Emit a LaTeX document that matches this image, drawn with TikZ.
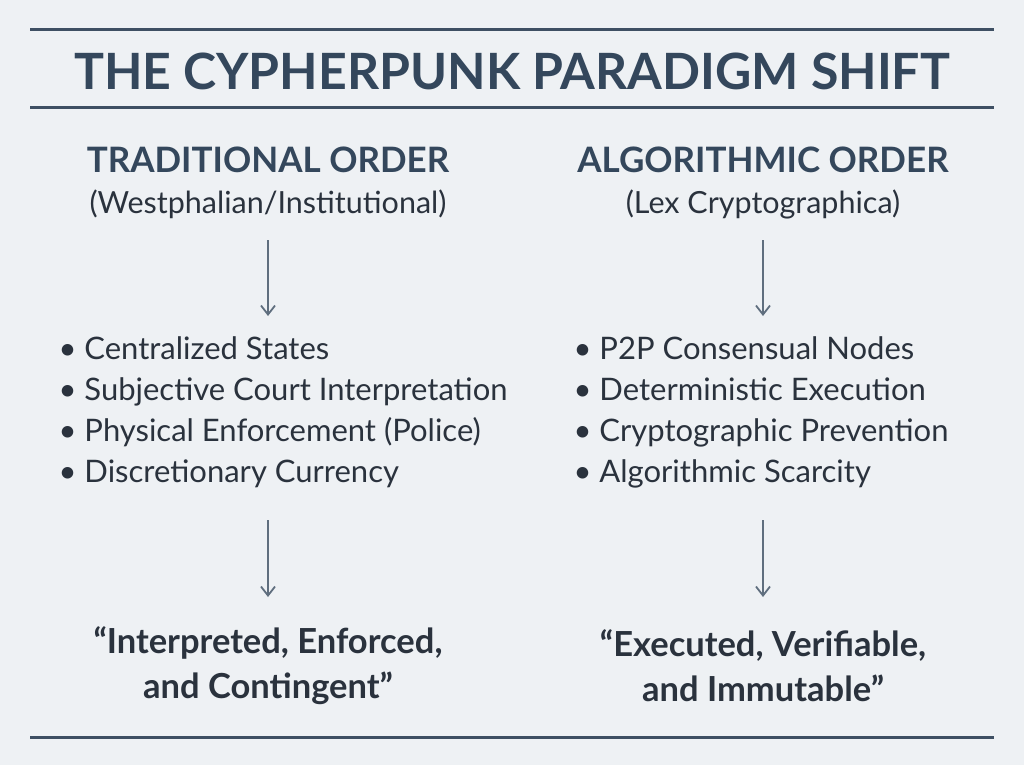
\documentclass[tikz,border=0pt]{standalone}
\usepackage{fontspec}
\setmainfont{Lato}
\usetikzlibrary{arrows.meta}
\definecolor{bg}{HTML}{EEF1F4}
\definecolor{rule}{HTML}{3E4F63}
\definecolor{txt}{HTML}{2A323D}
\definecolor{head}{HTML}{34475C}
\definecolor{arr}{HTML}{5F6E7E}
\begin{document}
\begin{tikzpicture}[x=1pt,y=-1pt,
  rulel/.style={draw=rule,line width=3pt},
  arrow/.style={draw=arr,line width=1.8pt,-{Straight Barb[length=9pt,width=14pt,line width=1.8pt]}},
  headn/.style={text=head,font=\fontsize{35}{40}\selectfont\bfseries},
  subn/.style={text=txt,font=\fontsize{30.5}{34}\selectfont},
  listn/.style={text=txt,font=\fontsize{31}{41}\selectfont,align=left,anchor=north west},
  quoten/.style={text=txt,font=\fontsize{34.5}{45}\selectfont\bfseries,align=center}]
\fill[bg] (0,0) rectangle (1024,765);
\useasboundingbox (0,0) rectangle (1024,765);
\coordinate (t1) at (30,30); \coordinate (t2) at (994,30);
\coordinate (m1) at (30,108); \coordinate (m2) at (994,108);
\coordinate (b1) at (30,737); \coordinate (b2) at (994,737);
\draw[rulel] (t1) -- (t2); \draw[rulel] (m1) -- (m2); \draw[rulel] (b1) -- (b2);
\node[text=head,font=\fontsize{50}{55}\selectfont\bfseries] (title) at (512,71) {THE CYPHERPUNK PARADIGM SHIFT};
\node[headn] (lh) at (268,160) {TRADITIONAL ORDER};
\node[subn] (ls) at (268,204) {(Westphalian/Institutional)};
\node[headn] (rh) at (763,160) {ALGORITHMIC ORDER};
\node[subn] (rs) at (763,204) {(Lex Cryptographica)};
\coordinate (la1) at (268,240); \coordinate (la2) at (268,316);
\coordinate (ra1) at (763,240); \coordinate (ra2) at (763,316);
\draw[arrow] (la1) -- (la2); \draw[arrow] (ra1) -- (ra2);
\node[listn] (ll) at (55,333) {• Centralized States\\• Subjective Court Interpretation\\• Physical Enforcement (Police)\\• Discretionary Currency};
\node[listn] (rl) at (570,333) {• P2P Consensual Nodes\\• Deterministic Execution\\• Cryptographic Prevention\\• Algorithmic Scarcity};
\coordinate (lb1) at (268,520); \coordinate (lb2) at (268,597);
\coordinate (rb1) at (763,520); \coordinate (rb2) at (763,597);
\draw[arrow] (lb1) -- (lb2); \draw[arrow] (rb1) -- (rb2);
\node[quoten] (lq) at (268,666) {“Interpreted, Enforced,\\and Contingent”};
\node[quoten] (rq) at (763,666) {“Executed, Verifiable,\\and Immutable”};
\end{tikzpicture}
\end{document}
